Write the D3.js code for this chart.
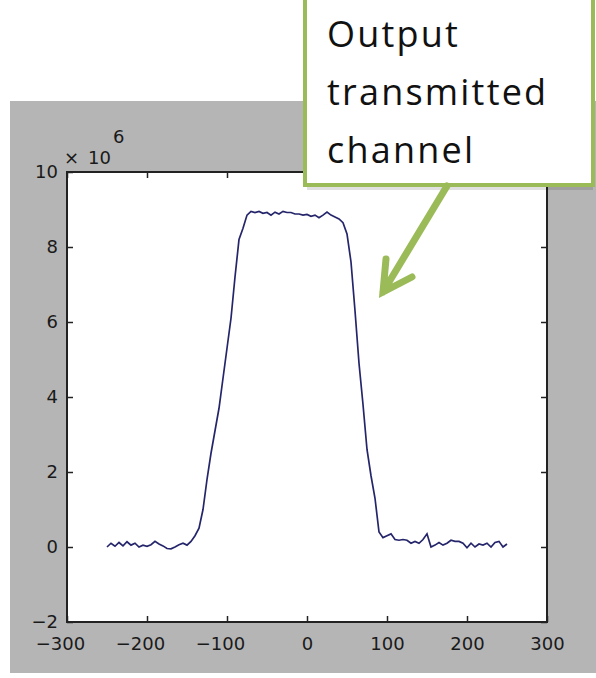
<!DOCTYPE html>
<html>
<head>
<meta charset="utf-8">
<script src="https://cdn.jsdelivr.net/npm/d3@7"></script>
<style>
  body { margin: 0; background: #fff; }
  svg { display: block; }
  .tick text { font-family: "DejaVu Sans", sans-serif; font-size: 18px; fill: #1a1a1a; }
</style>
</head>
<body>
<div class="chart"></div>
<script>
// frequency axis samples
const freq = [-250,-245,-240,-235,-230,-225,-220,-215,-210,-205,-200,-195,-190,-185,-180,-175,-170,-165,-160,-155,
  -150,-145,-140,-135,-130,-125,-120,-115,-110,-105,-100,-95,-90,-85,-80,-75,-70,-65,-60,-55,
  -50,-45,-40,-35,-30,-25,-20,-15,-10,-5,0,5,10,15,20,25,30,35,40,45,
  50,55,60,65,70,75,80,85,90,95,100,105,110,115,120,125,130,135,140,145,
  150,155,160,165,170,175,180,185,190,195,200,205,210,215,220,225,230,235,240,245,250];

// power, in units of 10^6
const power = [0.0,0.1,0.02,0.12,0.03,0.14,0.05,0.1,0.0,0.05,0.02,0.06,0.15,0.08,0.03,-0.04,-0.05,0.0,0.06,0.1,
  0.05,0.15,0.3,0.5,1.0,1.8,2.5,3.1,3.7,4.5,5.3,6.1,7.2,8.2,8.5,8.85,8.95,8.92,8.95,8.9,
  8.92,8.85,8.93,8.88,8.95,8.92,8.92,8.88,8.88,8.85,8.87,8.82,8.85,8.78,8.85,8.93,8.85,8.8,8.75,8.65,
  8.35,7.6,6.3,4.9,3.8,2.6,1.9,1.3,0.4,0.25,0.3,0.35,0.2,0.18,0.2,0.18,0.1,0.15,0.1,0.2,
  0.35,0.0,0.05,0.12,0.05,0.1,0.18,0.15,0.15,0.1,-0.02,0.1,0.0,0.08,0.05,0.1,0.0,0.12,0.15,0.0,0.08];

const xTicks = [-300,-200,-100,0,100,200,300];
const yTicks = [-2,0,2,4,6,8,10];
const noteLines = ["Output", "transmitted", "channel"];

const width = 596;
const height = 678;
const green = "#9bbb59";

const svg = d3.select(".chart")
  .append("svg")
  .attr("width", width)
  .attr("height", height);

// figure background
svg.append("rect")
  .attr("x", 10).attr("y", 101)
  .attr("width", 586).attr("height", 572)
  .attr("fill", "#b5b5b5");

const plotL = 67, plotR = 547, plotT = 172, plotB = 622;

const x = d3.scaleLinear().domain([-300, 300]).range([plotL, plotR]);
const y = d3.scaleLinear().domain([-2, 10]).range([plotB, plotT]);

svg.append("rect")
  .attr("x", plotL).attr("y", plotT)
  .attr("width", plotR - plotL).attr("height", plotB - plotT)
  .attr("fill", "#fff");

const line = d3.line()
  .x((d, i) => x(freq[i]))
  .y(d => y(d));

svg.append("path")
  .datum(power)
  .attr("d", line)
  .attr("fill", "none")
  .attr("stroke", "#25256b")
  .attr("stroke-width", 1.7);

// axes, ticks pointing inwards
const xAxis = svg.append("g")
  .attr("transform", `translate(0,${plotB})`)
  .call(d3.axisBottom(x).tickValues(xTicks).tickSizeInner(-6).tickSizeOuter(0).tickPadding(15));
xAxis.selectAll("text")
  .attr("dx", d => d < 0 ? -7 : 0);

svg.append("g")
  .attr("transform", `translate(0,${plotT})`)
  .call(d3.axisTop(x).tickValues(xTicks).tickSizeInner(-6).tickSizeOuter(0).tickFormat(""));

const yAxis = svg.append("g")
  .attr("transform", `translate(${plotL},0)`)
  .call(d3.axisLeft(y).tickValues(yTicks).tickSizeInner(-6).tickSizeOuter(0).tickPadding(9));

svg.append("g")
  .attr("transform", `translate(${plotR},0)`)
  .call(d3.axisRight(y).tickValues(yTicks).tickSizeInner(-6).tickSizeOuter(0).tickFormat(""));

svg.selectAll(".domain").remove();
svg.selectAll(".tick line").attr("stroke", "#222").attr("stroke-width", 1.5);

svg.append("rect")
  .attr("x", plotL).attr("y", plotT)
  .attr("width", plotR - plotL).attr("height", plotB - plotT)
  .attr("fill", "none")
  .attr("stroke", "#222")
  .attr("stroke-width", 2);

// exponent label
const expo = svg.append("text")
  .attr("font-family", "DejaVu Sans, sans-serif")
  .attr("fill", "#1a1a1a");
expo.append("tspan").attr("x", 64).attr("y", 164).attr("font-size", 18).text("×");
expo.append("tspan").attr("x", 88).attr("y", 164).attr("font-size", 18).text("10");
expo.append("tspan").attr("x", 113).attr("y", 143).attr("font-size", 18).text("6");

// callout box
svg.append("rect")
  .attr("x", 307).attr("y", 186)
  .attr("width", 286).attr("height", 4)
  .attr("fill", "#000").attr("opacity", 0.12);

svg.append("rect")
  .attr("x", 305).attr("y", -10)
  .attr("width", 288).attr("height", 195)
  .attr("fill", "#fff")
  .attr("stroke", green)
  .attr("stroke-width", 4);

svg.selectAll(".note")
  .data(noteLines)
  .join("text")
  .attr("class", "note")
  .attr("x", 327)
  .attr("y", (d, i) => 47 + i * 58)
  .attr("font-family", "Open Sans, sans-serif")
  .attr("font-size", 36)
  .attr("letter-spacing", 2.2)
  .attr("fill", "#111")
  .text(d => d);

// arrow
svg.append("path")
  .attr("d", "M447,186 L383,292 M386,259 L383,292 L412,277")
  .attr("fill", "none")
  .attr("stroke", green)
  .attr("stroke-width", 7)
  .attr("stroke-linecap", "round")
  .attr("stroke-linejoin", "miter");
</script>
</body>
</html>
